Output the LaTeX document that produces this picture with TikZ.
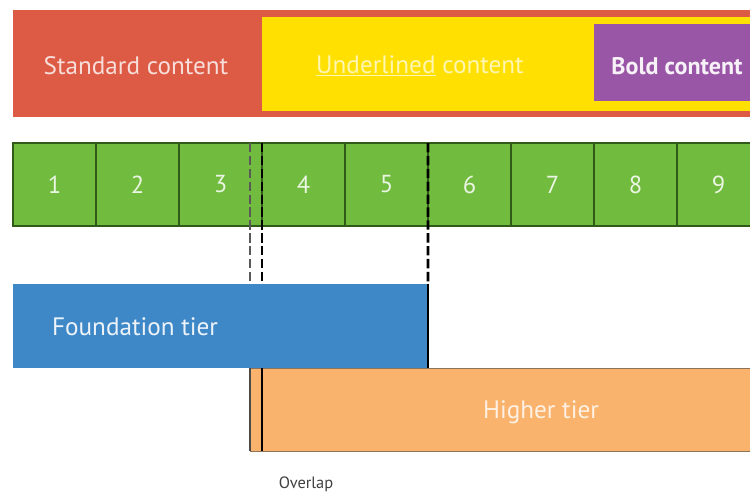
\documentclass[tikz,border=0pt]{standalone}
\usepackage{fontspec}
\setmainfont{PT Sans}
\usetikzlibrary{positioning}

\definecolor{rojo}{HTML}{DD5A44}
\definecolor{amarillo}{HTML}{FFE000}
\definecolor{morado}{HTML}{9A56A6}
\definecolor{verde}{HTML}{71BB3F}
\definecolor{verdeosc}{HTML}{2F5A18}
\definecolor{azul}{HTML}{3F88C8}
\definecolor{naranja}{HTML}{F9B36C}
\definecolor{borde}{HTML}{8F7358}

\tikzset{
  barra/.style={anchor=north west, inner sep=0pt, outer sep=0pt},
  celda/.style={barra, fill=verde, draw=verdeosc, line width=1pt,
    minimum width=2.49cm, minimum height=2.49cm,
    text=white!85!verde, font=\fontsize{21}{24}\selectfont},
  texto/.style={font=\fontsize{21.5}{24}\selectfont},
  corte/.style={line width=2.2pt, dash pattern=on 8pt off 3pt}
}

\begin{document}
\begin{tikzpicture}[x=0.03cm, y=-0.03cm]
  \clip (0,0) rectangle (750,492);

  % Contenidos
  \node[barra, fill=rojo, minimum width=22.2cm, minimum height=3.21cm] (std) at (13,10) {};
  \node[barra, fill=amarillo, minimum width=14.7cm, minimum height=2.82cm] (und) at (262,17) {};
  \node[barra, fill=morado, minimum width=4.8cm, minimum height=2.31cm] (bold) at (594,24) {};
  \node[texto, text=white!80!rojo] (tstd) at (136,66) {Standard content};
  \node[texto, text=white!70!amarillo] (tund) at (420,66) {\underline{Underlined} content};
  \node[texto, text=white!92!morado, font=\fontsize{20.5}{24}\selectfont\bfseries] (tbold) at (677,66) {Bold content};

  % Celdas numeradas
  \foreach \i in {1,...,9}
    \node[celda] (c\i) at ({13+(\i-1)*83},143) {\i};

  % Niveles
  \node[barra, fill=azul, minimum width=12.45cm, minimum height=2.52cm] (fund) at (13,284) {};
  \node[texto, text=white!90!azul, anchor=west] (tfund) at (48,327) {Foundation tier};
  \node[barra, fill=naranja, minimum width=15.3cm, minimum height=2.49cm] (hig) at (250,368) {};
  \node[texto, text=white!80!naranja] (thig) at (541,412) {Higher tier};
  \draw[borde, line width=0.8pt] (hig.north west) -- (hig.north east);
  \draw[borde, line width=0.8pt] (hig.south west) -- (hig.south east);
  \draw[black!70, line width=1.4pt] (hig.north west) -- (hig.south west);
  \draw[black, line width=1.8pt] (fund.north east) -- (fund.south east);
  \draw[black, line width=1.8pt] (c4.north west |- hig.north) -- (c4.north west |- hig.south);

  % Cortes discontinuos
  \draw[corte, black!65] (hig.north west |- c4.north) -- (hig.north west |- fund.north);
  \draw[corte] (c4.north west) -- (c4.north west |- fund.north);
  \draw[corte] (c6.north west) -- (fund.north east);

  % Etiqueta
  \node[text=black!75, font=\fontsize{14}{16}\selectfont] (over) at (306,484) {Overlap};
\end{tikzpicture}
\end{document}
